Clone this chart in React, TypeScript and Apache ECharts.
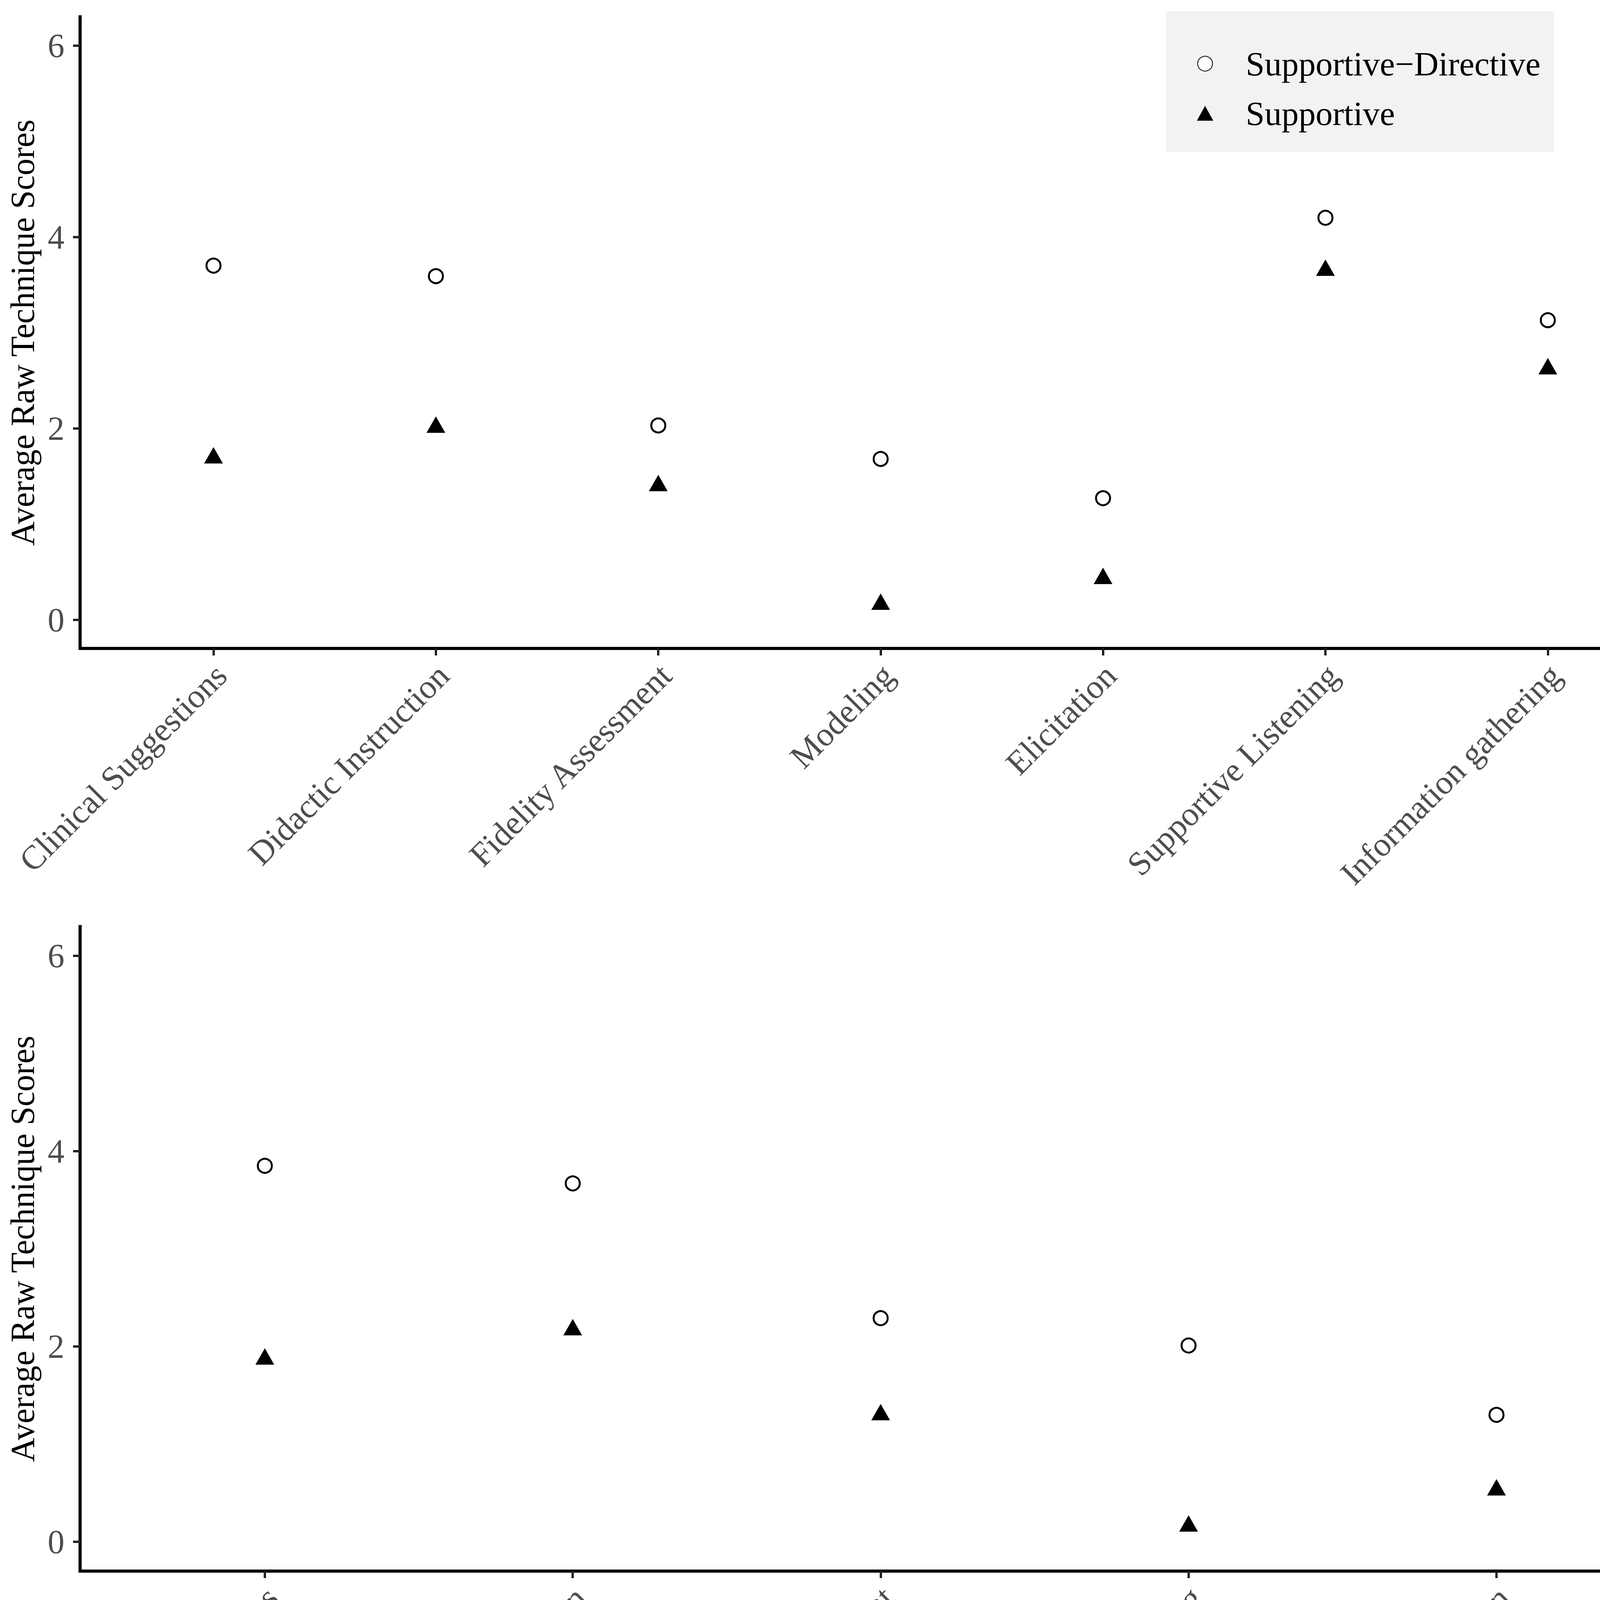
import React, { useEffect, useRef } from "react";
import * as echarts from "echarts";

// ---- data ----
const topCategories = [
  "Clinical Suggestions",
  "Didactic Instruction",
  "Fidelity Assessment",
  "Modeling",
  "Elicitation",
  "Supportive Listening",
  "Information gathering",
];
const topSupportiveDirective = [3.7, 3.59, 2.03, 1.68, 1.27, 4.2, 3.13];
const topSupportive = [1.69, 2.01, 1.4, 0.16, 0.43, 3.65, 2.62];

const bottomCategories = [
  "Clinical Suggestions",
  "Didactic Instruction",
  "Fidelity Assessment",
  "Modeling",
  "Elicitation",
];
const bottomSupportiveDirective = [3.85, 3.67, 2.29, 2.01, 1.3];
const bottomSupportive = [1.87, 2.17, 1.3, 0.16, 0.53];

const yTickValues = [0, 2, 4, 6];
const yTitle = "Average Raw Technique Scores";
const seriesNames = ["Supportive\u2212Directive", "Supportive"];

const FONT = "'Liberation Serif', 'Times New Roman', serif";
const W = 4317;
const H = 4615;

export default function App() {
  const ref = useRef<HTMLDivElement>(null);

  useEffect(() => {
    if (!ref.current) return;
    const chart = echarts.init(ref.current, undefined, { renderer: "svg" });

    const panelLeft = 205;
    const panelWidth = 4099;
    const panels = [
      { top: 43, height: 1617, cats: topCategories, sd: topSupportiveDirective, s: topSupportive },
      { top: 2372, height: 1650, cats: bottomCategories, sd: bottomSupportiveDirective, s: bottomSupportive },
    ];

    const grid: any[] = [];
    const xAxis: any[] = [];
    const yAxis: any[] = [];
    const series: any[] = [];

    panels.forEach((p, i) => {
      const band = panelWidth / (p.cats.length + 0.2);
      const inset = band * 0.1;
      grid.push({ left: panelLeft, top: p.top, width: panelWidth, height: p.height, outerBoundsMode: "none" });
      grid.push({ left: panelLeft + inset, top: p.top, width: panelWidth - 2 * inset, height: p.height, outerBoundsMode: "none" });
      const g0 = i * 2;
      const g1 = i * 2 + 1;

      xAxis.push({
        gridIndex: g0,
        type: "value",
        min: 0,
        max: 1,
        axisLine: { show: true, onZero: false, lineStyle: { color: "#000", width: 8, cap: "square" } },
        axisTick: { show: false },
        axisLabel: { show: false },
        splitLine: { show: false },
      });
      yAxis.push({
        gridIndex: g0,
        type: "value",
        min: -0.3,
        max: 6.3,
        name: yTitle,
        nameLocation: "middle",
        nameRotate: 90,
        nameGap: 104,
        nameTextStyle: { fontFamily: FONT, fontSize: 86, color: "#000" },
        axisLine: { show: true, onZero: false, lineStyle: { color: "#000", width: 8, cap: "square" } },
        axisTick: { show: true, length: 18, customValues: yTickValues, lineStyle: { color: "#222", width: 6 } },
        axisLabel: {
          show: true,
          customValues: yTickValues,
          margin: 40,
          fontFamily: FONT,
          fontSize: 86,
          color: "#4d4d4d",
        },
        splitLine: { show: false },
      });

      xAxis.push({
        gridIndex: g1,
        type: "category",
        data: p.cats,
        boundaryGap: true,
        position: "bottom",
        axisLine: { show: false, onZero: false },
        axisTick: { show: true, alignWithLabel: true, interval: 0, length: 18, lineStyle: { color: "#222", width: 6 } },
        axisLabel: {
          show: true,
          interval: 0,
          rotate: 45,
          align: "right",
          verticalAlign: "top",
          margin: 30,
          lineHeight: 62,
          padding: [0, 4, 0, 0],
          fontFamily: FONT,
          fontSize: 86,
          color: "#4d4d4d",
        },
        splitLine: { show: false },
      });
      yAxis.push({
        gridIndex: g1,
        type: "value",
        min: -0.3,
        max: 6.3,
        show: false,
        splitLine: { show: false },
      });

      series.push({
        name: seriesNames[0],
        type: "scatter",
        xAxisIndex: g1,
        yAxisIndex: g1,
        data: p.sd,
        symbol: "circle",
        symbolSize: 36,
        itemStyle: { color: "#fff", borderColor: "#000", borderWidth: 5, opacity: 1 },
      });
      series.push({
        name: seriesNames[1],
        type: "scatter",
        xAxisIndex: g1,
        yAxisIndex: g1,
        data: p.s,
        symbol: "triangle",
        symbolSize: [48, 42],
        symbolOffset: [0, -7],
        itemStyle: { color: "#000", opacity: 1 },
      });
    });

    chart.setOption({
      animation: false,
      backgroundColor: "#fff",
      grid,
      xAxis,
      yAxis,
      series,
      legend: {
        data: seriesNames,
        orient: "vertical",
        left: 2986,
        top: 29,
        backgroundColor: "#f2f2f2",
        padding: [84, 35, 49, 78],
        itemGap: 27,
        itemWidth: 42,
        itemHeight: 38,
        selectedMode: false,
        textStyle: {
          fontFamily: FONT,
          fontSize: 87,
          color: "#000",
          lineHeight: 100,
          padding: [0, 0, 0, 78],
        },
      },
    });

    return () => chart.dispose();
  }, []);

  return (
    <div
      ref={ref}
      style={{ position: "absolute", left: 0, top: 0, width: W, height: H, background: "#fff" }}
    />
  );
}
